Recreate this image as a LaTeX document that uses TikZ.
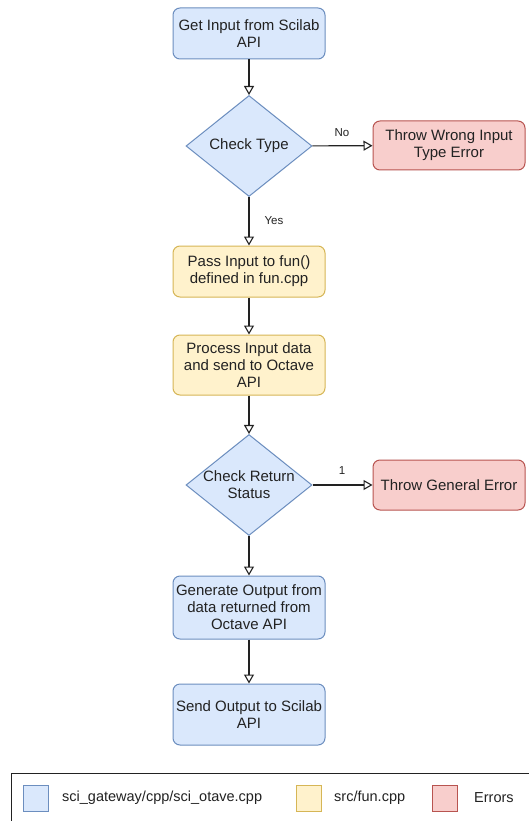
\documentclass[tikz,border=0pt]{standalone}
\usepackage{fontspec}
\setmainfont{Liberation Sans}
\usetikzlibrary{shapes.geometric,arrows.meta}
\definecolor{bfill}{HTML}{DAE8FC}
\definecolor{bline}{HTML}{6C8EBF}
\definecolor{yfill}{HTML}{FFF2CC}
\definecolor{yline}{HTML}{D6B656}
\definecolor{rfill}{HTML}{F8CECC}
\definecolor{rline}{HTML}{B85450}
\definecolor{ink}{HTML}{222222}
\begin{document}
\begin{tikzpicture}[x=1pt,y=-1pt,
  txt/.style={font=\fontsize{15}{17}\selectfont, text=ink, align=center},
  proc/.style={txt, rectangle, rounded corners=7pt, draw, line width=1pt, minimum width=152pt, minimum height=51pt, inner sep=2pt},
  bluebox/.style={proc, fill=bfill, draw=bline},
  yelbox/.style={proc, fill=yfill, draw=yline},
  redbox/.style={proc, fill=rfill, draw=rline},
  dec/.style={diamond, draw=bline, fill=bfill, line width=1pt, minimum width=126pt, minimum height=101pt, inner sep=0pt},
  arr/.style={draw=ink, line width=1.1pt, -{Triangle[open, length=9pt, width=10pt, line width=1.1pt]}},
  lab/.style={font=\fontsize{11.5}{13}\selectfont, text=ink},
  leg/.style={font=\fontsize{14.5}{17}\selectfont, text=ink, anchor=west, inner sep=0pt},
  sw/.style={line width=1pt}
]
\useasboundingbox (0,0) rectangle (528,821);
\fill[white] (0,0) rectangle (528,821);

\node[bluebox] (b1) at (249,33.5) {Get Input from Scilab\\API};
\node[dec] (d1) at (249,146) {};
\node[txt] (d1t) at (d1.center) {Check Type};
\node[redbox, minimum height=49pt] (e1) at (449,145.5) {Throw Wrong Input\\Type Error};
\node[yelbox] (y1) at (249,271.5) {Pass Input to fun()\\defined in fun.cpp};
\node[yelbox, minimum height=60pt] (y2) at (249,365) {Process Input data\\and send to Octave\\API};
\node[dec] (d2) at (249,485) {};
\node[txt] (d2t) at (d2.center) {Check Return\\Status};
\node[redbox, minimum height=50pt] (e2) at (449,485) {Throw General Error};
\node[bluebox, minimum height=63pt] (b2) at (249,607.5) {Generate Output from\\data returned from\\Octave API};
\node[bluebox, minimum height=61pt] (b3) at (249,714.5) {Send Output to Scilab\\API};

\draw[arr] (b1) -- (d1);
\draw[arr] (d1) -- (e1);
\draw[arr] (d1) -- (y1);
\draw[arr] (y1) -- (y2);
\draw[arr] (y2) -- (d2);
\draw[arr] (d2) -- (e2);
\draw[arr] (d2) -- (b2);
\draw[arr] (b2) -- (b3);

\node[lab] (lno) at (342,133) {No};
\node[lab] (lyes) at (274,221) {Yes};
\node[lab] (lone) at (342,471) {1};

% legend
\draw[draw=ink, line width=1pt] (11,773) rectangle (545,840);
\draw[sw, fill=bfill, draw=bline] (23,785) rectangle (48,811);
\node[leg] (lg1) at (62,798) {sci\_gateway/cpp/sci\_otave.cpp};
\draw[sw, fill=yfill, draw=yline] (296,785) rectangle (321,811);
\node[leg] (lg2) at (334,798) {src/fun.cpp};
\draw[sw, fill=rfill, draw=rline] (432,785) rectangle (457,811);
\node[leg] (lg3) at (474,798) {Errors};
\end{tikzpicture}
\end{document}
